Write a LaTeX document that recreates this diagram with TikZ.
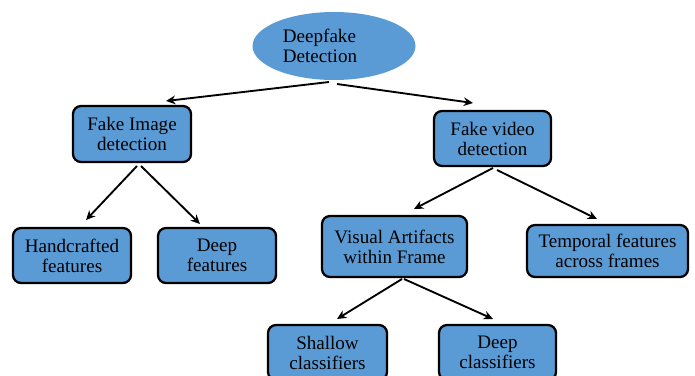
\documentclass[tikz,border=0pt]{standalone}
\usepackage{fontspec}
\setmainfont{Liberation Serif}
\newfontfamily\boxfont{Liberation Serif}
\usetikzlibrary{arrows.meta,shapes.geometric}
\definecolor{boxblue}{HTML}{5B9BD5}
\begin{document}
\begin{tikzpicture}[x=0.75pt,y=-0.75pt,
  txt/.style={font=\boxfont\fontsize{14.3}{15}\selectfont, text=black},
  box/.style={txt, draw=black, line width=1.7pt, fill=boxblue, rounded corners=6pt, align=center, inner sep=0pt},
  conn/.style={-{Stealth[length=7pt,width=6.5pt]}, line width=1.4pt}]
\useasboundingbox (0,0) rectangle (695,375);
\clip (0,0) rectangle (695,375);
% root
\node[ellipse, fill=boxblue, draw=none, minimum width=122.25pt, minimum height=51pt] (root) at (334,46) {};
\node[txt, align=left] (roottxt) at (320,46) {Deepfake\\Detection};
% level 1
\node[box, minimum width=88.5pt, minimum height=42pt] (fi) at (132,134) {Fake Image\\detection};
\node[box, minimum width=87.75pt, minimum height=41.25pt] (fv) at (492.5,138.5) {Fake video\\detection};
% level 2
\node[box, minimum width=88.5pt, minimum height=41.25pt] (hc) at (72,255.5) {Handcrafted\\features};
\node[box, minimum width=88.5pt, minimum height=41.25pt] (df) at (217,255.5) {Deep\\features};
\node[box, minimum width=108.75pt, minimum height=45.75pt] (va) at (394.5,246.5) {Visual Artifacts\\within Frame};
\node[box, minimum width=120.75pt, minimum height=39pt] (tf) at (607.5,251) {Temporal features\\across frames};
% level 3
\node[box, minimum width=89.25pt, minimum height=41.25pt] (sc) at (327.5,352.5) {Shallow\\classifiers};
\node[box, minimum width=87.75pt, minimum height=41.25pt] (dc) at (497.5,352.5) {Deep\\classifiers};
% connector end points
\coordinate (r1) at (329,82);
\coordinate (r2) at (337,84);
\coordinate (fiin) at (166,101);
\coordinate (fvin) at (473,103);
\coordinate (fi1) at (137,166);
\coordinate (fi2) at (141,166);
\coordinate (hcin) at (86,220);
\coordinate (dfin) at (200,224);
\coordinate (fv1) at (493,168);
\coordinate (fv2) at (497,170);
\coordinate (vain) at (414,209);
\coordinate (tfin) at (597,219);
\coordinate (va1) at (402,279);
\coordinate (va2) at (404,279);
\coordinate (scin) at (337,319);
\coordinate (dcin) at (493,319);
% connectors
\draw[conn] (r1) -- (fiin);
\draw[conn] (r2) -- (fvin);
\draw[conn] (fi1) -- (hcin);
\draw[conn] (fi2) -- (dfin);
\draw[conn] (fv1) -- (vain);
\draw[conn] (fv2) -- (tfin);
\draw[conn] (va1) -- (scin);
\draw[conn] (va2) -- (dcin);
\end{tikzpicture}
\end{document}
